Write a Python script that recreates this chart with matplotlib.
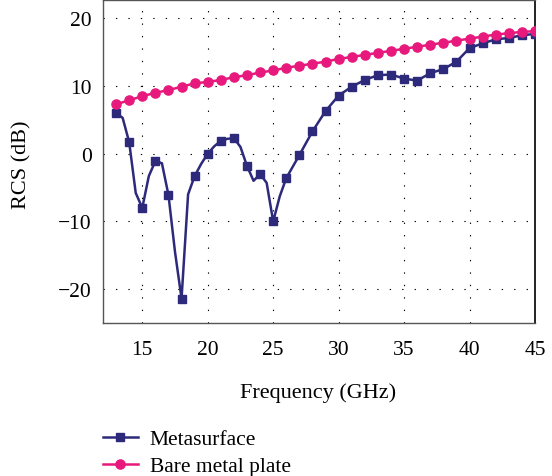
import matplotlib.pyplot as plt

plt.rcParams['font.family'] = ['Liberation Serif', 'DejaVu Serif']
plt.rcParams['axes.unicode_minus'] = True

# metasurface: sampled every 0.5 GHz up to 27 GHz, every 1 GHz above
freq_meta = [13, 13.5, 14, 14.5, 15, 15.5, 16, 16.5, 17, 17.5, 18, 18.5, 19, 19.5,
             20, 20.5, 21, 21.5, 22, 22.5, 23, 23.5, 24, 24.5, 25, 25.5, 26, 26.5,
             27, 28, 29, 30, 31, 32, 33, 34, 35, 36, 37, 38, 39, 40, 41, 42, 43, 44, 45]
rcs_meta = [6.0, 5.3, 1.7, -5.8, -8.0, -3.3, -1.1, -1.4, -6.1, -14.5, -21.4, -6.0, -3.3, -1.5,
            0.0, 1.1, 1.9, 2.2, 2.3, 1.0, -1.8, -4.0, -3.0, -4.3, -10.0, -6.3, -3.6, -1.9,
            -0.2, 3.3, 6.3, 8.6, 9.9, 10.9, 11.6, 11.7, 11.1, 10.8, 11.9, 12.5, 13.6, 15.6,
            16.3, 16.9, 17.1, 17.5, 17.7]

freq_plate = [13, 14, 15, 16, 17, 18, 19, 20, 21, 22, 23, 24, 25, 26, 27, 28, 29,
              30, 31, 32, 33, 34, 35, 36, 37, 38, 39, 40, 41, 42, 43, 44, 45]
rcs_plate = [7.3, 7.9, 8.5, 9.0, 9.4, 9.9, 10.4, 10.6, 10.9, 11.3, 11.6, 12.0, 12.3,
             12.7, 13.0, 13.3, 13.6, 14.0, 14.3, 14.6, 14.9, 15.2, 15.5, 15.8, 16.1,
             16.4, 16.7, 17.0, 17.3, 17.6, 17.8, 18.0, 18.1]

x_ticks = [15, 20, 25, 30, 35, 40, 45]
y_ticks = [-20, -10, 0, 10, 20]

navy = '#2d2a7b'
pink = '#e8197d'

fig = plt.figure(figsize=(5.52, 4.77), dpi=100)
ax = fig.add_axes([0.1866, 0.3208, 0.7826, 0.677])

# markers only on whole-GHz samples
marks = [i for i, f in enumerate(freq_meta) if f == int(f)]
ax.plot(freq_meta, rcs_meta, color=navy, linewidth=1.8, marker='s', markersize=5.5,
        markevery=marks, label='Metasurface', zorder=3)
ax.plot(freq_plate, rcs_plate, color=pink, linewidth=1.8, marker='o', markersize=6.6,
        label='Bare metal plate', zorder=4)

ax.set_xlim(12, 45)
ax.set_ylim(-25, 22.7)
ax.set_xticks(x_ticks)
ax.set_yticks(y_ticks)
ax.tick_params(length=0, labelsize=15.5)
ax.tick_params(axis='x', pad=12)
ax.tick_params(axis='y', pad=8)

ax.grid(True, color='black', linewidth=0.8, linestyle=(0, (1.2, 10)))
ax.set_axisbelow(True)

for side in ['left', 'bottom', 'top']:
    ax.spines[side].set_color('#555555')
    ax.spines[side].set_linewidth(1.0)
ax.spines['right'].set_color('#222222')
ax.spines['right'].set_linewidth(1.4)

ax.set_xlabel('Frequency (GHz)', fontsize=16)
ax.xaxis.label.set_va('center')
ax.xaxis.set_label_coords(0.498, -0.214)
ax.set_ylabel('RCS (dB)', fontsize=16)
ax.yaxis.label.set_va('center')
ax.yaxis.set_label_coords(-0.1875, 0.492)

fig.legend(loc='upper left', bbox_to_anchor=(0.186, 0.098), frameon=False,
           fontsize=15.5, handlelength=1.63, handletextpad=0.55, labelspacing=0.33,
           borderaxespad=0, borderpad=0)

fig.savefig('out.png', dpi=100)
